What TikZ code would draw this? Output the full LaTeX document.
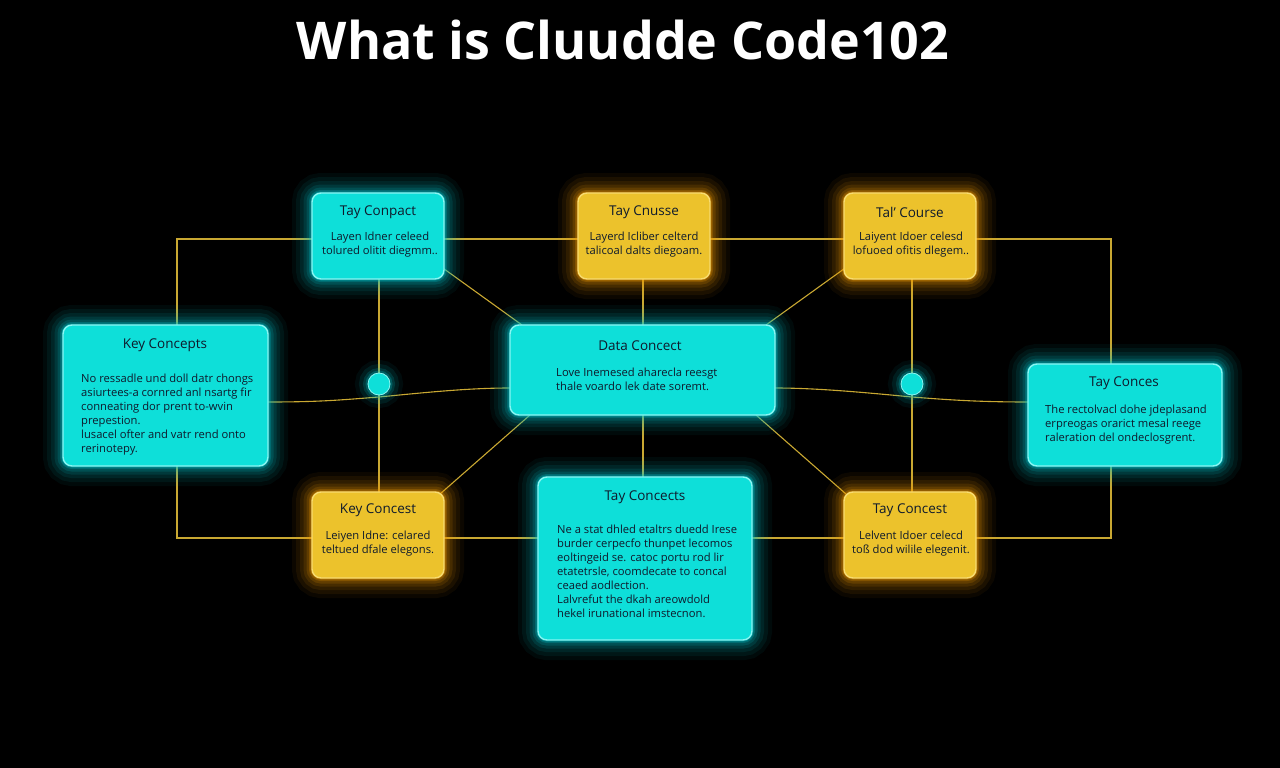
\documentclass[tikz,border=0pt]{standalone}
\usepackage{fontspec}
\setmainfont{Open Sans}
\usetikzlibrary{calc}
\definecolor{cyanfill}{HTML}{0EDFD9}
\definecolor{cyanedge}{HTML}{8AF6F2}
\definecolor{cyanglow}{HTML}{00C8D0}
\definecolor{yelfill}{HTML}{ECC22C}
\definecolor{yeledge}{HTML}{F8DC72}
\definecolor{yelglow}{HTML}{F29A00}
\definecolor{wire}{HTML}{C9A832}
\definecolor{ink}{HTML}{0E1A2C}
\tikzset{
  cyanbox/.style={draw=cyanedge, fill=cyanfill, line width=1.4pt, rounded corners=9pt, inner sep=0pt},
  yelbox/.style={draw=yeledge, fill=yelfill, line width=1.4pt, rounded corners=9pt, inner sep=0pt},
  wireline/.style={draw=wire, line width=1.1pt},
  ttl/.style={text=ink, font=\fontsize{13.5}{16}\selectfont, inner sep=0pt},
  body/.style={text=ink, font=\fontsize{11.2}{14}\selectfont, inner sep=0pt},
  dot/.style={circle, fill=cyanfill, draw=cyanedge, line width=0.8pt, minimum size=22pt, inner sep=0pt}
}
% \gbox{name}{cx}{cy}{w}{h}{cyan|yel}
\newcommand\gbox[6]{%
  \foreach \w/\o in {40/0.05,32/0.07,24/0.09,17/0.12,11/0.16,6/0.24,3/0.35}{%
    \draw[#6glow, line width=\w pt, opacity=\o, rounded corners=9pt]
      ({#2-#4/2},{#3-#5/2}) rectangle ({#2+#4/2},{#3+#5/2});}
  \node[#6box, minimum width=#4pt, minimum height=#5pt] (#1) at (#2,#3) {};
}
\begin{document}
\begin{tikzpicture}[x=1pt,y=-1pt]
\fill[black] (0,0) rectangle (1280,768);
\useasboundingbox (0,0) rectangle (1280,768);

% title
\node[text=white, font=\fontsize{52}{58}\selectfont\bfseries, inner sep=0pt] (title) at (623,40) {What is Cluudde Code102};

% coordinates for wires
\coordinate (lt) at (177,239);
\coordinate (rt) at (1111,239);
\coordinate (lb) at (177,538);
\coordinate (rb) at (1111,538);

\coordinate (tlW) at (312,239); \coordinate (tlE) at (444,239);
\coordinate (tmW) at (578,239); \coordinate (tmE) at (710,239);
\coordinate (trW) at (844,239); \coordinate (trE) at (976,239);
\coordinate (blW) at (312,538); \coordinate (blE) at (444,538);
\coordinate (bmW) at (538,538); \coordinate (bmE) at (752,538);
\coordinate (brW) at (844,538); \coordinate (brE) at (976,538);

% wires
\draw[wireline] (tlW) -- (lt) -- (177,325);
\draw[wireline] (tlE) -- (tmW);
\draw[wireline] (tmE) -- (trW);
\draw[wireline] (trE) -- (rt) -- (1111,364);
\draw[wireline] (blW) -- (lb) -- (177,466);
\draw[wireline] (blE) -- (bmW);
\draw[wireline] (bmE) -- (brW);
\draw[wireline] (brE) -- (rb) -- (1111,466);
\draw[wireline] (379,279) -- (379,492);
\draw[wireline] (912,279) -- (912,492);
\draw[wireline] (643,279) -- (643,325);
\draw[wireline] (643,415) -- (643,477);
\draw[wireline] (440,266) -- (522,325);
\draw[wireline] (848,266) -- (766,325);
\draw[wireline] (530,415) -- (440,494);
\draw[wireline] (756,415) -- (846,494);
\draw[wireline] (268,402) .. controls (320,402) and (340,400) .. (379,397) .. controls (430,392) and (470,388) .. (510,388);
\draw[wireline] (775,388) .. controls (815,388) and (860,392) .. (912,397) .. controls (950,400) and (980,402) .. (1028,402);

% boxes
\gbox{tl}{378}{236}{132}{86}{cyan}
\gbox{tm}{644}{236}{132}{86}{yel}
\gbox{tr}{910}{236}{132}{86}{yel}
\gbox{lf}{165.5}{395.5}{205}{141}{cyan}
\gbox{ct}{642.5}{370}{265}{90}{cyan}
\gbox{rg}{1125}{415}{194}{102}{cyan}
\gbox{bl}{378}{535}{132}{86}{yel}
\gbox{bm}{645}{558.5}{214}{163}{cyan}
\gbox{br}{910}{535}{132}{86}{yel}

% junction dots
\foreach \w/\o in {26/0.06,18/0.1,10/0.16,5/0.25}{
  \draw[cyanglow, line width=\w pt, opacity=\o] (379,384) circle (11);
  \draw[cyanglow, line width=\w pt, opacity=\o] (912,384) circle (11);}
\node[dot] (d1) at (379,384) {};
\node[dot] (d2) at (912,384) {};

% texts
\node[ttl] (tlt) at (378,212) {Tay Conpact};
\node[body, align=center] (tlb) at (380,245) {Layen Idner celeed\\tolured olitit diegmm..};
\node[ttl] (tmt) at (644,212) {Tay Cnusse};
\node[body, align=center] (tmb) at (644,245) {Layerd Icliber celterd\\talicoal dalts diegoam.};
\node[ttl] (trt) at (910,212) {Tal' Course};
\node[body, align=center] (trb) at (911,245) {Laiyent Idoer celesd\\lofuoed ofitis dlegem..};

\node[ttl] (lft) at (165,345) {Key Concepts};
\node[body, align=left, anchor=north west] (lfb) at (81,374) {No ressadle und doll datr chongs\\asiurtees-a cornred anl nsartg fir\\conneating dor prent to-wvin\\prepestion.\\lusacel ofter and vatr rend onto\\rerinotepy.};

\node[ttl] (ctt) at (640,346) {Data Concect};
\node[body, align=left, anchor=north west] (ctb) at (556,368) {Love Inemesed aharecla reesgt\\thale voardo lek date soremt.};

\node[ttl] (rgt) at (1124,383) {Tay Conces};
\node[body, align=left, anchor=north west] (rgb) at (1045,405) {The rectolvacl dohe jdeplasand\\erpreogas orarict mesal reege\\raleration del ondeclosgrent.};

\node[ttl] (blt) at (378,510) {Key Concest};
\node[body, align=center] (blb) at (378,544) {Leiyen Idne: celared\\teltued dfale elegons.};

\node[ttl] (bmt) at (645,497) {Tay Concects};
\node[body, align=left, anchor=north west] (bmb) at (557,525) {Ne a stat dhled etaltrs duedd Irese\\burder cerpecfo thunpet lecomos\\eoltingeid se. catoc portu rod lir\\etatetrsle, coomdecate to concal\\ceaed aodlection.\\Lalvrefut the dkah areowdold\\hekel irunational imstecnon.};

\node[ttl] (brt) at (910,510) {Tay Concest};
\node[body, align=center] (brb) at (911,544) {Lelvent Idoer celecd\\toß dod wilile elegenit.};
\end{tikzpicture}
\end{document}
